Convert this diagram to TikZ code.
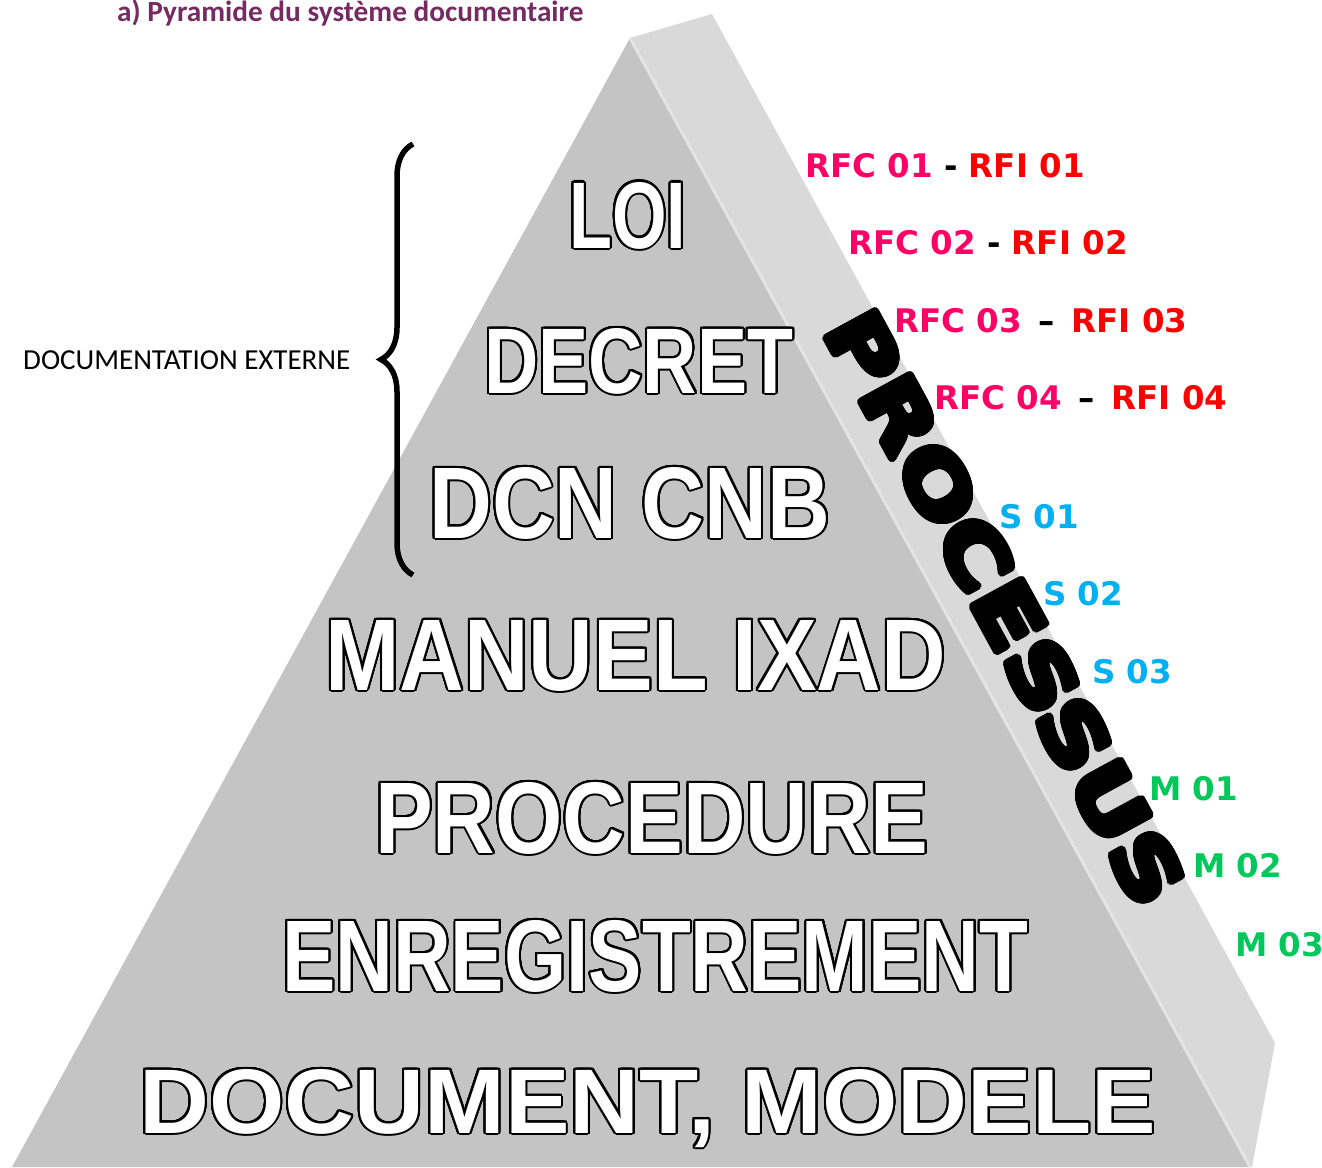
\documentclass[tikz,border=0pt]{standalone}
\usepackage{fontspec}
\usepackage{graphicx}
\usepackage{xcolor}
\usepackage{contour}
\usetikzlibrary{decorations.pathreplacing}
\setmainfont{Carlito}
\newfontfamily\tierfont{Liberation Sans}
\newfontfamily\refsfont{DejaVu Sans}
\contourlength{2pt}
\contournumber{32}
\definecolor{titleplum}{RGB}{118,42,98}
\definecolor{frontgray}{RGB}{196,196,196}
\definecolor{sidegray}{RGB}{217,217,217}
\definecolor{edgegray}{RGB}{228,228,228}
\definecolor{rfcpink}{RGB}{255,0,102}
\definecolor{rfired}{RGB}{255,0,0}
\definecolor{sblue}{RGB}{0,176,240}
\definecolor{mgreen}{RGB}{0,200,90}
\newcommand{\tiertext}[3]{\contour{black}{\resizebox{#1pt}{#2pt}{#3}}}
\tikzset{
    tier/.style = {inner sep=0pt, anchor=base west, text=white, font=\tierfont\bfseries},
    ref-label/.style = {inner sep=0pt, anchor=base west, font=\refsfont\bfseries\fontsize{32.5}{32.5}\selectfont},
}

\begin{document}
\begin{tikzpicture}[x=1pt, y=-1pt]
\useasboundingbox (0,0) rectangle (1322,1167);
% pyramid
\coordinate (apex) at (630,38);
\coordinate (backtop) at (712,14);
\coordinate (sideright) at (1275,1043);
\coordinate (sidebottom) at (1252,1167);
\coordinate (frontleft) at (12,1167);
\coordinate (frontright) at (1250,1167);
\fill[sidegray] (apex) -- (backtop) -- (sideright) -- (sidebottom) -- (frontright) -- cycle;
\fill[frontgray] (apex) -- (frontleft) -- (frontright) -- cycle;
\draw[edgegray, line width=3pt] (apex) -- (frontright);

\node[anchor=base west, inner sep=0pt, text=titleplum, font=\bfseries\fontsize{29.3}{29.3}\selectfont] (title) at (117,21) {a) Pyramide du système documentaire};

% levels
\node[tier] (loi) at (569,248) {\tiertext{117}{66}{LOI}};
\node[tier] (decret) at (484,393) {\tiertext{309}{65}{DECRET}};
\node[tier] (dcn) at (429,538) {\tiertext{401}{71}{DCN CNB}};
\node[tier] (manuel) at (325,690) {\tiertext{621}{70}{MANUEL IXAD}};
\node[tier] (procedure) at (375,853) {\tiertext{553}{71}{PROCEDURE}};
\node[tier] (enreg) at (282,991) {\tiertext{746}{71}{ENREGISTREMENT}};
\node[tier] (document) at (139,1133) {\tiertext{1017}{64}{DOCUMENT, MODELE}};

\node[inner sep=0pt, rotate=-61.4, font=\refsfont\bfseries] (processus) at (1004,609) {\contourlength{3.5pt}\contour{black}{\resizebox{663pt}{57pt}{PROCESSUS}}};

% external documentation
\coordinate (bracebot) at (413,575);
\coordinate (bracetop) at (413,144);
\draw[decorate, decoration={brace, amplitude=32pt}, line width=5.5pt] (bracebot) -- (bracetop);
\node[anchor=base west, inner sep=0pt, font=\fontsize{29}{29}\selectfont] (externe) at (23,369) {DOCUMENTATION EXTERNE};

% references
\node[ref-label] (rf1) at (805,177) {\textcolor{rfcpink}{RFC 01} - \textcolor{rfired}{RFI 01}};
\node[ref-label] (rf2) at (848,254.5) {\textcolor{rfcpink}{RFC 02} - \textcolor{rfired}{RFI 02}};
\node[ref-label] (rf3) at (894,332) {\textcolor{rfcpink}{RFC 03} \,–\, \textcolor{rfired}{RFI 03}};
\node[ref-label] (rf4) at (934,409.5) {\textcolor{rfcpink}{RFC 04} \,–\, \textcolor{rfired}{RFI 04}};
\node[ref-label, text=sblue] (s1) at (999,528) {S 01};
\node[ref-label, text=sblue] (s2) at (1043,605) {S 02};
\node[ref-label, text=sblue] (s3) at (1092,683) {S 03};
\node[ref-label, text=mgreen] (m1) at (1149,800) {M 01};
\node[ref-label, text=mgreen] (m2) at (1193,877) {M 02};
\node[ref-label, text=mgreen] (m3) at (1235,956) {M 03};
\end{tikzpicture}
\end{document}
